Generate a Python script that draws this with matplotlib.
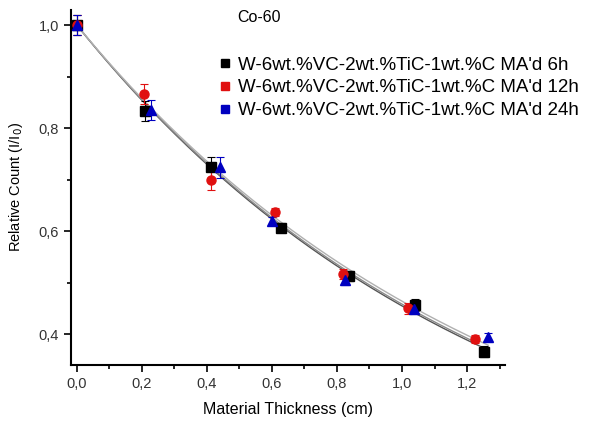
import numpy as np
import matplotlib
matplotlib.use("Agg")
import matplotlib.pyplot as plt
from matplotlib.lines import Line2D
from matplotlib.ticker import MultipleLocator, FuncFormatter

plt.rcParams['font.family'] = ['Liberation Sans', 'DejaVu Sans']

labels = ["W-6wt.%VC-2wt.%TiC-1wt.%C MA'd 6h",
          "W-6wt.%VC-2wt.%TiC-1wt.%C MA'd 12h",
          "W-6wt.%VC-2wt.%TiC-1wt.%C MA'd 24h"]

x_6h = [0.0, 0.209, 0.412, 0.627, 0.838, 1.040, 1.252]
y_6h = [1.0, 0.833, 0.724, 0.607, 0.513, 0.456, 0.366]
e_6h = [0.02, 0.02, 0.02, 0.008, 0.01, 0.012, 0.01]

x_12h = [0.0, 0.207, 0.411, 0.609, 0.817, 1.019, 1.225]
y_12h = [1.0, 0.866, 0.699, 0.637, 0.517, 0.450, 0.390]
e_12h = [0.02, 0.02, 0.02, 0.008, 0.01, 0.01, 0.008]

x_24h = [0.0, 0.227, 0.440, 0.599, 0.825, 1.037, 1.265]
y_24h = [1.0, 0.835, 0.724, 0.620, 0.505, 0.449, 0.394]
e_24h = [0.02, 0.02, 0.02, 0.008, 0.01, 0.01, 0.008]

x_ticks = [0.0, 0.2, 0.4, 0.6, 0.8, 1.0, 1.2]
y_ticks = [0.4, 0.6, 0.8, 1.0]

series = [
    (x_6h, y_6h, e_6h, 's', '#000000', '#555555'),
    (x_12h, y_12h, e_12h, 'o', '#e01010', '#8a8a8a'),
    (x_24h, y_24h, e_24h, '^', '#0000c0', '#b0b0b0'),
]

fig = plt.figure(figsize=(5.97, 4.21), dpi=100)
ax = fig.add_axes([0.119, 0.133, 0.727, 0.844])

# exponential attenuation fits I/I0 = exp(-mu x)
for xs, ys, es, m, c, lc in series:
    xs = np.array(xs)
    ys = np.array(ys)
    mu = -np.sum(xs * np.log(ys)) / np.sum(xs * xs)
    xf = np.linspace(0, max(xs), 200)
    ax.plot(xf, np.exp(-mu * xf), color=lc, lw=1.0, zorder=1)

for xs, ys, es, m, c, lc in series:
    ax.errorbar(xs, ys, yerr=es, fmt=m, color=c, ecolor=c, elinewidth=0.8,
                capsize=3, capthick=0.8, markersize=6.5, zorder=3)

ax.set_xlim(-0.018, 1.317)
ax.set_ylim(0.34, 1.03)
ax.set_xticks(x_ticks)
ax.set_yticks(y_ticks)
ax.xaxis.set_minor_locator(MultipleLocator(0.1))
ax.yaxis.set_minor_locator(MultipleLocator(0.1))
fmt = FuncFormatter(lambda v, p: ("%.1f" % v).replace('.', ','))
ax.xaxis.set_major_formatter(fmt)
ax.yaxis.set_major_formatter(fmt)
ax.tick_params(which='major', direction='out', length=5, width=1.2,
               labelsize=10.5, labelcolor='#333333')
ax.tick_params(which='minor', direction='out', length=3, width=1.2)
ax.spines['top'].set_visible(False)
ax.spines['right'].set_visible(False)
ax.spines['left'].set_linewidth(1.5)
ax.spines['bottom'].set_linewidth(1.5)

ax.set_xlabel('Material Thickness (cm)', fontsize=11.5, labelpad=8)
ax.set_ylabel('Relative Count (I/I$_0$)', fontsize=10.5, labelpad=10)

handles = [Line2D([], [], marker='s', color=c, ls='none', markersize=5.5)
           for xs, ys, es, m, c, lc in series]
ax.legend(handles, labels, loc='upper left', bbox_to_anchor=(0.342, 0.868),
          frameon=False, fontsize=13.5, handlelength=0.6, handletextpad=0.4,
          labelspacing=0.3, borderaxespad=0, borderpad=0)
ax.text(0.382, 0.977, 'Co-60', transform=ax.transAxes, fontsize=11.5,
        va='center', ha='left')

fig.savefig('out.png', dpi=100)
